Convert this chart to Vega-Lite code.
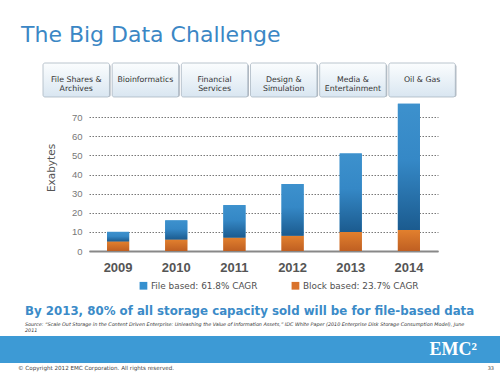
{
  "$schema": "https://vega.github.io/schema/vega-lite/v6.json",
  "background": "white",
  "padding": {"left": 0, "right": 0, "top": 23, "bottom": 0},
  "spacing": 0,
  "title": {"text": "The Big Data Challenge", "anchor": "start", "frame": "group", "dx": 21, "fontSize": 22, "font": "DejaVu Sans", "fontWeight": "normal", "color": "#3b87c5", "offset": 16},
  "config": {"view": {"stroke": null}, "font": "DejaVu Sans"},
  "vconcat": [
    {
      "spacing": 0,
      "hconcat": [
        {"width": 42, "height": 1, "data": {"values": []}, "mark": "text"},
        {
          "width": 412.3,
          "height": 34,
          "data": {"values": [
            {"segment": "File Shares &\nArchives"},
            {"segment": "Bioinformatics"},
            {"segment": "Financial\nServices"},
            {"segment": "Design &\nSimulation"},
            {"segment": "Media &\nEntertainment"},
            {"segment": "Oil & Gas"}
          ]},
          "encoding": {"x": {"field": "segment", "type": "nominal", "sort": null, "axis": null, "scale": {"paddingInner": 0.039, "paddingOuter": 0}}},
          "layer": [
            {"mark": {"type": "bar", "fill": "#b3bac2", "xOffset": 1.2, "yOffset": 1.5, "cornerRadius": 2}},
            {"mark": {"type": "bar", "cornerRadius": 2, "stroke": "#a9b6c2", "strokeWidth": 0.8, "fill": {"gradient": "linear", "x1": 0, "y1": 0, "x2": 0, "y2": 1, "stops": [{"offset": 0, "color": "#fbfdfe"}, {"offset": 1, "color": "#d9e6f1"}]}}},
            {"mark": {"type": "text", "fontSize": 7.8, "color": "#333333", "lineBreak": "\n", "lineHeight": 9}, "encoding": {"text": {"field": "segment"}}}
          ]
        }
      ]
    },
    {
      "spacing": 0,
      "resolve": {"legend": {"color": "independent"}},
      "hconcat": [
        {"width": 29, "height": 1, "data": {"values": []}, "mark": "text"},
        {
          "width": 349,
          "height": 153,
          "data": {"values": [
            {"year": "2009", "series": "Block based: 23.7% CAGR", "value": 5},
            {"year": "2009", "series": "File based: 61.8% CAGR", "value": 5},
            {"year": "2010", "series": "Block based: 23.7% CAGR", "value": 6},
            {"year": "2010", "series": "File based: 61.8% CAGR", "value": 10},
            {"year": "2011", "series": "Block based: 23.7% CAGR", "value": 7},
            {"year": "2011", "series": "File based: 61.8% CAGR", "value": 17},
            {"year": "2012", "series": "Block based: 23.7% CAGR", "value": 8},
            {"year": "2012", "series": "File based: 61.8% CAGR", "value": 27},
            {"year": "2013", "series": "Block based: 23.7% CAGR", "value": 10},
            {"year": "2013", "series": "File based: 61.8% CAGR", "value": 41},
            {"year": "2014", "series": "Block based: 23.7% CAGR", "value": 11},
            {"year": "2014", "series": "File based: 61.8% CAGR", "value": 66}
          ]},
          "transform": [{"stack": "value", "groupby": ["year"], "sort": [{"field": "series", "order": "ascending"}], "as": ["v0", "v1"]}],
          "encoding": {
            "x": {"field": "year", "type": "ordinal", "scale": {"paddingInner": 0.62, "paddingOuter": 0.31},
              "axis": {"title": null, "labelAngle": 0, "domainColor": "#888888", "domainWidth": 2, "ticks": false, "tickSize": 0, "labelPadding": 10, "labelFont": "Liberation Sans", "labelFontSize": 13, "labelFontWeight": "bold", "labelColor": "#555555", "minExtent": 55, "maxExtent": 55}},
            "y": {"field": "v1", "type": "quantitative", "scale": {"domain": [0, 80], "nice": false},
              "axis": {"title": "Exabytes", "values": [0, 10, 20, 30, 40, 50, 60, 70], "grid": true, "gridDash": [1.5, 1.5], "gridColor": "#555555", "gridWidth": 0.8, "domain": false, "ticks": false, "tickSize": 0, "labelPadding": 7, "labelFontSize": 9.5, "labelFont": "Liberation Sans", "labelColor": "#777777", "titleFont": "DejaVu Sans", "titleFontSize": 10.5, "titleFontWeight": "normal", "titleColor": "#555555", "titleX": -32.5, "titleY": 69.5, "minExtent": 60, "maxExtent": 60}},
            "y2": {"field": "v0"}
          },
          "layer": [
            {"mark": "bar", "encoding": {"color": {"field": "series", "type": "nominal",
              "scale": {"domain": ["File based: 61.8% CAGR", "Block based: 23.7% CAGR"], "range": ["#3590cf", "#d9722b"]},
              "legend": {"orient": "none", "legendX": 50, "legendY": 183, "direction": "horizontal", "title": null, "symbolType": "square", "symbolSize": 60, "symbolStrokeWidth": 0, "labelFontSize": 8.9, "labelFont": "DejaVu Sans", "labelColor": "#505050", "columnPadding": 33, "labelOffset": 3, "padding": 0}}}},
            {"mark": "bar", "encoding": {
              "fill": {
              "condition": {"test": "datum.series === 'File based: 61.8% CAGR'", "value": {"gradient": "linear", "x1": 0, "y1": 0, "x2": 0, "y2": 1, "stops": [{"offset": 0, "color": "#3d91cd"}, {"offset": 0.45, "color": "#3588c6"}, {"offset": 1, "color": "#1b5b8f"}]}},
              "value": {"gradient": "linear", "x1": 0, "y1": 0, "x2": 0, "y2": 1, "stops": [{"offset": 0, "color": "#e2802e"}, {"offset": 1, "color": "#bf5f22"}]}}}}
          ]
        }
      ]
    },
    {
      "width": 500,
      "height": 27,
      "view": {"fill": "#3d9ad5", "stroke": null},
      "title": {"text": "By 2013, 80% of all storage capacity sold will be for file-based data", "subtitle": ["Source: “Scale Out Storage in the Content Driven Enterprise: Unleashing the Value of Information Assets,” IDC White Paper (2010 Enterprise Disk Storage Consumption Model), June", "2011"], "anchor": "start", "frame": "group", "dx": 25, "fontSize": 11.8, "font": "DejaVu Sans", "fontWeight": "bold", "color": "#3b8bc8", "subtitleFont": "DejaVu Sans", "subtitleFontSize": 4.85, "subtitleFontStyle": "italic", "subtitleFontWeight": "normal", "subtitleColor": "#333333", "subtitleLineHeight": 6, "subtitlePadding": 3.5, "offset": 3.5},
      "data": {"values": [{"logo": "EMC²"}]},
      "mark": {"type": "text", "font": "Liberation Serif", "fontWeight": "bold", "fontSize": 18, "color": "white", "align": "right", "baseline": "middle", "dx": -23},
      "encoding": {"text": {"field": "logo"}, "x": {"value": "width"}}
    },
    {
      "width": 500,
      "height": 10,
      "data": {"values": [{"note": "© Copyright 2012 EMC Corporation. All rights reserved.", "page": "33"}]},
      "layer": [
        {"mark": {"type": "text", "align": "left", "fontSize": 5.6, "color": "#444444", "font": "DejaVu Sans", "dx": 18}, "encoding": {"text": {"field": "note"}, "x": {"value": 0}}},
        {"mark": {"type": "text", "align": "right", "fontSize": 5, "color": "#444444", "dx": -6}, "encoding": {"text": {"field": "page"}, "x": {"value": "width"}}}
      ]
    }
  ]
}
